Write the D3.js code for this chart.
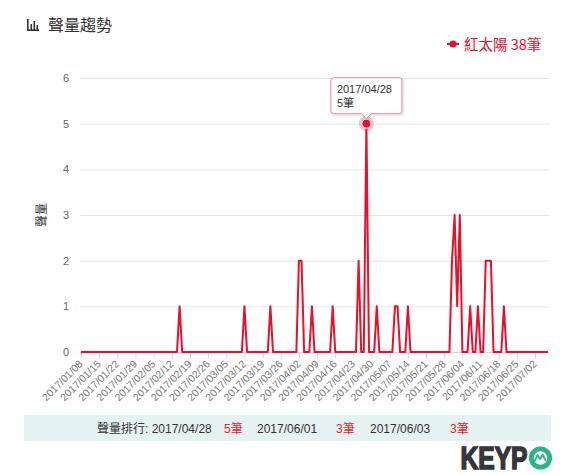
<!DOCTYPE html>
<html>
<head>
<meta charset="utf-8">
<script src="https://cdn.jsdelivr.net/npm/d3@7/dist/d3.min.js"></script>
<style>
html,body{margin:0;padding:0;background:#fff;}
svg{display:block;font-family:"Liberation Sans",Arial,"Noto Sans CJK TC",sans-serif;}
</style>
</head>
<body>
<svg id="chart" width="572" height="475"></svg>
<script>
// ---- data ----
const chartTitle = "聲量趨勢";
const seriesName = "紅太陽";
const seriesTotal = 38;
const yAxisTitle = "聲量";
const startDate = "2017-01-08";
const endDate = "2017-07-07";
// daily values, one row per week starting on Sunday 2017/01/08
const dailyValues = [
  0,0,0,0,0,0,0,
  0,0,0,0,0,0,0,
  0,0,0,0,0,0,0,
  0,0,0,0,0,0,0,
  0,0,0,0,0,0,0,
  0,0,0,1,0,0,0,
  0,0,0,0,0,0,0,
  0,0,0,0,0,0,0,
  0,0,0,0,0,0,0,
  1,0,0,0,0,0,0,
  0,0,0,1,0,0,0,
  0,0,0,0,0,0,0,
  2,2,0,0,0,1,0,
  0,0,0,0,0,0,1,
  0,0,0,0,0,0,0,
  0,0,2,0,0,5,0,
  0,0,1,0,0,0,0,
  0,0,1,1,0,0,0,
  1,0,0,0,0,0,0,
  0,0,0,0,0,0,0,
  0,0,0,2,3,1,3,
  0,0,0,1,0,0,1,
  0,0,2,2,2,0,0,
  0,0,1,0,0,0,0,
  0,0,0,0,0,0,0,
  0,0,0,0,0,0
];
const yTicks = [0,1,2,3,4,5,6];
const tooltipDate = "2017-04-28";
const rankLabel = "聲量排行:";
const rankDates = ["2017/04/28","2017/06/01","2017/06/03"];
const rankValues = [5,3,3];

// ---- setup ----
const RED = "#e8102c";
const svg = d3.select("#chart");
const parse = d3.timeParse("%Y-%m-%d");
const fmt = d3.timeFormat("%Y/%m/%d");
const t0 = parse(startDate), t1 = parse(endDate);
const data = dailyValues.map((v,i)=>({date:d3.timeDay.offset(t0,i), value:v}));

const plotL = 80, plotR = 549;
const x = d3.scaleTime().domain([t0,t1]).range([81,548]);
const y = d3.scaleLinear().domain([0,6]).range([352,78]);

// title
const icon = svg.append("g").attr("fill","#333").attr("stroke","none");
icon.append("rect").attr("x",27).attr("y",19).attr("width",1.6).attr("height",12);
icon.append("rect").attr("x",27).attr("y",29.4).attr("width",12).attr("height",1.6);
icon.append("rect").attr("x",30.5).attr("y",24).attr("width",1.6).attr("height",6);
icon.append("rect").attr("x",33.5).attr("y",21).attr("width",1.6).attr("height",9);
icon.append("rect").attr("x",36.5).attr("y",25).attr("width",1.6).attr("height",5);
svg.append("text").attr("x",48).attr("y",30.5)
  .attr("font-family","'Noto Sans CJK TC',sans-serif").attr("font-size",16)
  .attr("font-weight",400).attr("fill","#333").text(chartTitle);

// legend
const lg = svg.append("g");
lg.append("line").attr("x1",447).attr("x2",459).attr("y1",44).attr("y2",44)
  .attr("stroke",RED).attr("stroke-width",2);
lg.append("circle").attr("cx",453).attr("cy",44).attr("r",3.5).attr("fill",RED);
lg.append("text").attr("x",464).attr("y",49.5)
  .attr("font-family","'Noto Sans CJK TC',sans-serif").attr("font-size",14.5)
  .attr("fill",RED).text(seriesName + " " + seriesTotal + "筆");

// gridlines
svg.append("g").selectAll("line").data(yTicks.filter(d=>d>0)).join("line")
  .attr("x1",plotL).attr("x2",plotR)
  .attr("y1",d=>y(d)+0.5).attr("y2",d=>y(d)+0.5)
  .attr("stroke","#e6e6e6").attr("stroke-width",1);

// y axis labels
const yAxis = d3.axisLeft(y).tickValues(yTicks).tickSize(0).tickPadding(0).tickFormat(d3.format("d"));
const yg = svg.append("g").attr("transform","translate(69,0)").call(yAxis);
yg.select(".domain").remove();
yg.selectAll("text").attr("font-size",11).attr("fill","#666")
  .attr("font-family","'Liberation Sans',Arial,sans-serif");

// y title
svg.append("text").attr("transform","translate(46,215) rotate(-90)")
  .attr("text-anchor","middle")
  .attr("font-family","'Noto Sans CJK TC',sans-serif").attr("font-size",12)
  .attr("fill","#333").text(yAxisTitle);

// x axis
const weekTicks = d3.timeWeek.range(t0, d3.timeDay.offset(t1,1));
const xAxis = d3.axisBottom(x).tickValues(weekTicks).tickSize(6).tickPadding(3).tickFormat(fmt);
const xg = svg.append("g").attr("transform","translate(0,352.5)").call(xAxis);
xg.select(".domain").attr("d",`M${plotL},0H${plotR}`).attr("stroke","#ccd6eb");
xg.selectAll(".tick line").attr("stroke","#ccd6eb");
xg.selectAll(".tick text")
  .attr("font-size",10.5).attr("fill","#777")
  .attr("font-family","'Liberation Sans',Arial,sans-serif")
  .attr("text-anchor","end")
  .attr("dy",null).attr("y",0)
  .attr("transform","translate(2,12) rotate(-45)");

// line
const line = d3.line().x(d=>x(d.date)).y(d=>y(d.value));
svg.append("path").datum(data).attr("d",line)
  .attr("fill","none").attr("stroke",RED).attr("stroke-width",2)
  .attr("stroke-linejoin","round");

// hovered marker
const hp = data.find(d=>+d.date === +parse(tooltipDate));
svg.append("circle").attr("cx",x(hp.date)).attr("cy",y(hp.value)).attr("r",7.5)
  .attr("fill",RED).attr("fill-opacity",0.25);
svg.append("circle").attr("cx",x(hp.date)).attr("cy",y(hp.value)).attr("r",4.5)
  .attr("fill",RED).attr("stroke","#fff").attr("stroke-width",1);

// tooltip
const tx = x(hp.date), ty = y(hp.value);
const bw = 71, bh = 36, bx = tx - 35.5, by = ty - 46;
const tip = svg.append("g");
const tipPath = `M${bx+3},${by} H${bx+bw-3} Q${bx+bw},${by} ${bx+bw},${by+3} V${by+bh-3} Q${bx+bw},${by+bh} ${bx+bw-3},${by+bh} H${tx+5} L${tx},${by+bh+5} L${tx-5},${by+bh} H${bx+3} Q${bx},${by+bh} ${bx},${by+bh-3} V${by+3} Q${bx},${by} ${bx+3},${by} Z`;
tip.append("path").attr("d",tipPath).attr("transform","translate(1,1)")
  .attr("fill","none").attr("stroke","#000").attr("stroke-opacity",0.08).attr("stroke-width",3);
tip.append("path").attr("d",tipPath).attr("fill","#fff").attr("fill-opacity",0.95)
  .attr("stroke","#e8909c").attr("stroke-width",1);
tip.append("text").attr("x",bx+6).attr("y",by+15).attr("font-size",11).attr("fill","#333")
  .attr("font-family","'Liberation Sans',Arial,sans-serif").text(fmt(hp.date));
tip.append("text").attr("x",bx+6).attr("y",by+29).attr("font-size",11).attr("fill","#333")
  .attr("font-family","'Liberation Sans','Noto Sans CJK TC',sans-serif").text(hp.value + "筆");

// ranking band
svg.append("rect").attr("x",24).attr("y",415).attr("width",527).attr("height",26).attr("fill","#e4f2f1");
const rk = svg.append("text").attr("y",432.5).attr("font-size",12)
  .attr("font-family","'Liberation Sans','Noto Sans CJK TC',sans-serif");
rk.append("tspan").attr("x",97).attr("fill","#333").text(rankLabel + " " + rankDates[0]);
const rankX = [[224,257],[336,370],[450,null]];
rankValues.forEach((v,i)=>{
  rk.append("tspan").attr("x",rankX[i][0]).attr("fill","#f0202f").text(v + "筆");
  if (i+1 < rankDates.length) rk.append("tspan").attr("x",rankX[i][1]).attr("fill","#333").text(rankDates[i+1]);
});

// KEYPO logo
const logo = svg.append("g");
logo.append("text").attr("x",460.5).attr("y",469).attr("font-size",31).attr("font-weight",900)
  .attr("font-family","'Liberation Sans',Arial,sans-serif").attr("fill","#35353b")
  .attr("stroke","#35353b").attr("stroke-width",1.6).attr("stroke-linejoin","miter")
  .attr("textLength",67).attr("lengthAdjust","spacingAndGlyphs").text("KEYP");
logo.append("circle").attr("cx",540.5).attr("cy",458).attr("r",9.2)
  .attr("fill","none").attr("stroke","#2bb588").attr("stroke-width",4.8);
logo.append("path").attr("d","M534.5,461.5 L537.5,455 L540,459 L542.5,454.5 L546,461")
  .attr("fill","none").attr("stroke","#2bb588").attr("stroke-width",1.8).attr("stroke-linejoin","round");
</script>
</body>
</html>
